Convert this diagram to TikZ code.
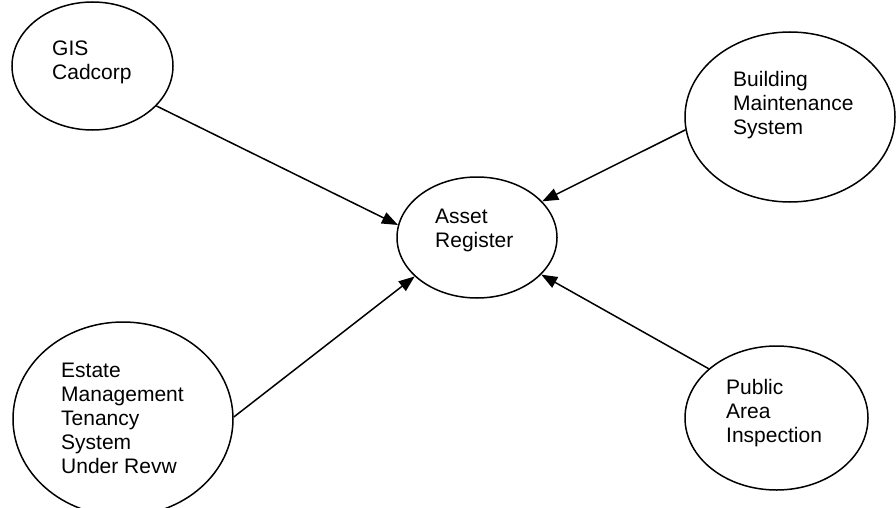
\documentclass[tikz,border=0pt]{standalone}
\usepackage{fontspec}
\setmainfont{Liberation Sans}
\usetikzlibrary{arrows.meta,shapes.geometric}
\begin{document}
\begin{tikzpicture}[x=1pt,y=-1pt,
  bubble/.style={draw,ellipse,line width=1.5pt,inner sep=0pt},
  lbl/.style={inner sep=0pt,anchor=base west,font=\fontsize{21}{24}\selectfont},
  link/.style={line width=1.5pt,-{Triangle[length=16pt,width=12pt]}}]
\useasboundingbox (0,0) rectangle (896,508);
\node[bubble,minimum width=161pt,minimum height=128pt] (gis) at (92.5,66) {};
\node[bubble,minimum width=210pt,minimum height=170pt] (bld) at (790,117) {};
\node[bubble,minimum width=160pt,minimum height=121pt] (asset) at (477,237.5) {};
\node[bubble,minimum width=220pt,minimum height=194pt] (est) at (123,419) {};
\node[bubble,minimum width=183pt,minimum height=144pt] (pub) at (776.5,418) {};
\node[lbl] (gisT) at (52,56) {\vtop{\hbox{GIS}\hbox{Cadcorp}}};
\node[lbl] (bldT) at (733,87) {\vtop{\hbox{Building}\hbox{Maintenance}\hbox{System}}};
\node[lbl] (assetT) at (435,223) {\vtop{\hbox{Asset}\hbox{Register}}};
\node[lbl] (estT) at (61,377) {\vtop{\hbox{Estate}\hbox{Management}\hbox{Tenancy}\hbox{System}\hbox{Under Revw}}};
\node[lbl] (pubT) at (726,394) {\vtop{\hbox{Public}\hbox{Area}\hbox{Inspection}}};
\draw[link] (gis.-32) -- (asset.171);
\draw[link] (bld.187) -- (asset.29);
\draw[link] (est.1) -- (asset.212);
\draw[link] (pub.144) -- (asset.-30);
\end{tikzpicture}
\end{document}
